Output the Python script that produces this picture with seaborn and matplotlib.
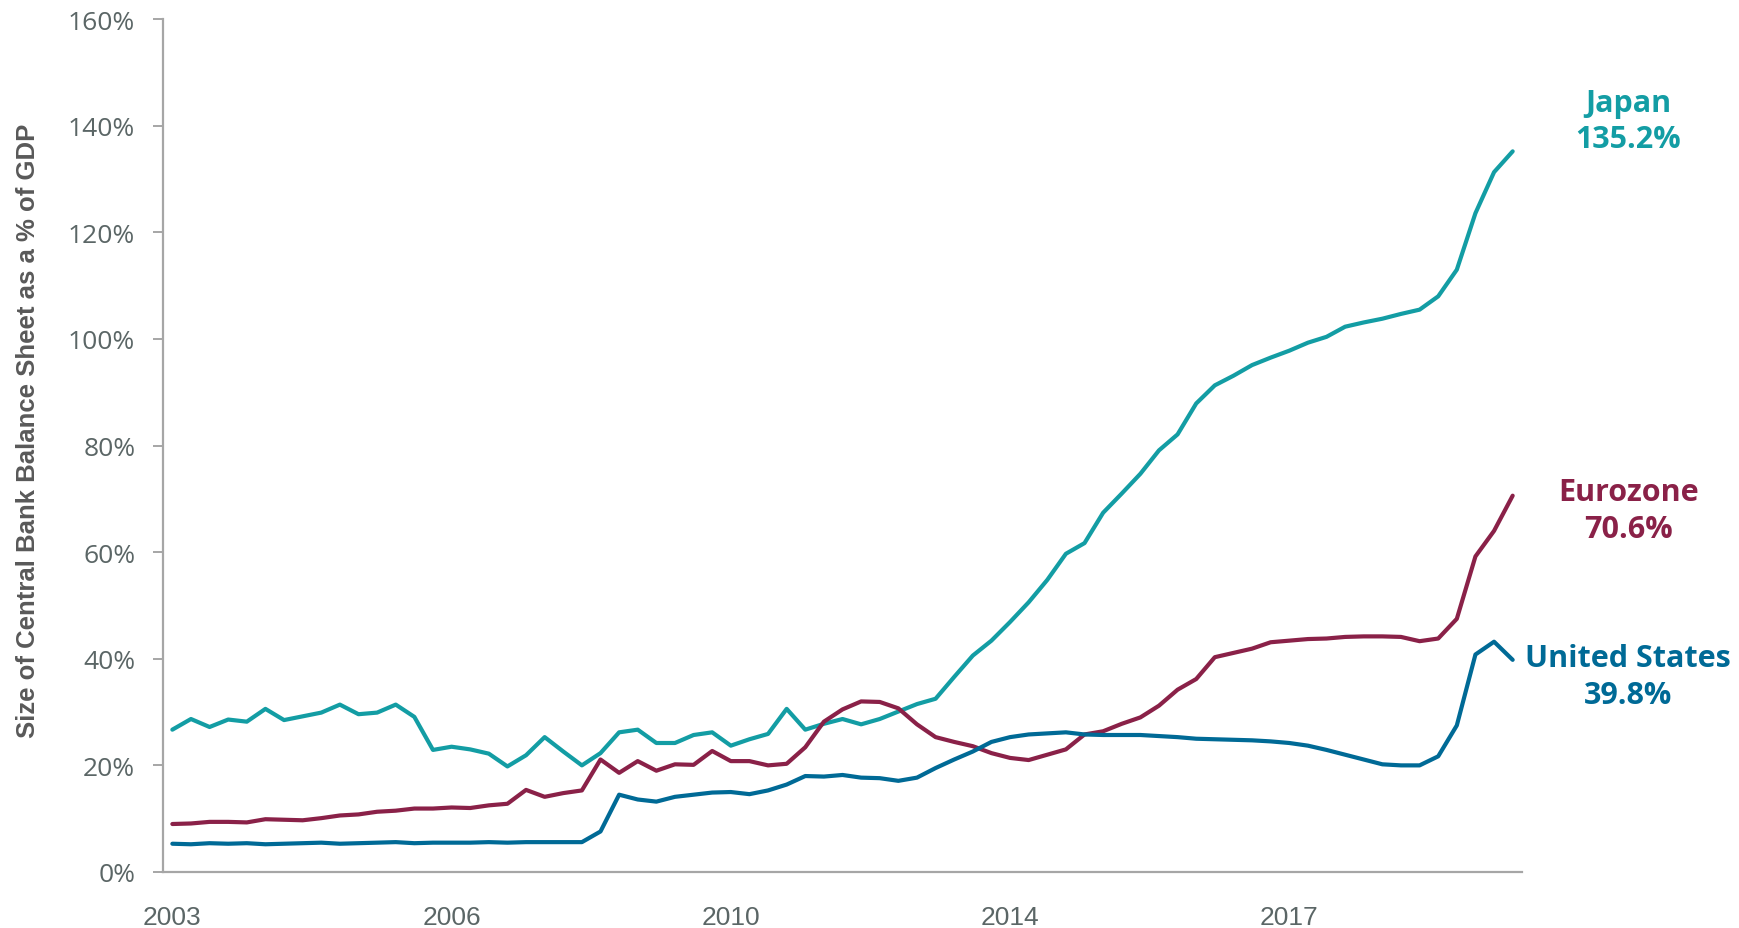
import matplotlib
matplotlib.use('Agg')
import matplotlib.pyplot as plt
import seaborn as sns
import pandas as pd
import numpy as np

# quarterly data, 73 points
japan = [26.7, 28.7, 27.2, 28.6, 28.2, 30.6, 28.5, 29.2, 29.9, 31.4, 29.6, 29.9, 31.4, 29.1, 22.9, 23.5,
         23.0, 22.2, 19.8, 21.9, 25.3, 22.6, 20.0, 22.3, 26.2, 26.7, 24.2, 24.2, 25.7, 26.2, 23.7, 24.9,
         25.9, 30.6, 26.7, 27.8, 28.7, 27.7, 28.7, 30.1, 31.5, 32.5, 36.6, 40.6, 43.4, 46.9, 50.6, 54.8,
         59.7, 61.7, 67.4, 71.0, 74.7, 79.1, 82.1, 87.9, 91.3, 93.1, 95.1, 96.5, 97.8, 99.3, 100.4, 102.3,
         103.1, 103.8, 104.7, 105.5, 108.0, 113.0, 123.6, 131.3, 135.2]
eurozone = [9.0, 9.1, 9.4, 9.4, 9.3, 9.9, 9.8, 9.7, 10.1, 10.6, 10.8, 11.3, 11.5, 11.9, 11.9, 12.1,
            12.0, 12.5, 12.8, 15.4, 14.1, 14.8, 15.3, 21.1, 18.6, 20.8, 19.0, 20.2, 20.1, 22.7, 20.8, 20.8,
            20.0, 20.3, 23.4, 28.2, 30.5, 32.0, 31.9, 30.7, 27.7, 25.3, 24.4, 23.6, 22.3, 21.4, 21.0, 22.0,
            23.0, 25.8, 26.4, 27.8, 29.0, 31.2, 34.2, 36.2, 40.3, 41.1, 41.9, 43.1, 43.4, 43.7, 43.8, 44.1,
            44.2, 44.2, 44.1, 43.3, 43.8, 47.5, 59.2, 64.0, 70.6]
us = [5.3, 5.2, 5.4, 5.3, 5.4, 5.2, 5.3, 5.4, 5.5, 5.3, 5.4, 5.5, 5.6, 5.4, 5.5, 5.5,
      5.5, 5.6, 5.5, 5.6, 5.6, 5.6, 5.6, 7.6, 14.5, 13.6, 13.2, 14.1, 14.5, 14.9, 15.0, 14.6,
      15.3, 16.4, 18.0, 17.9, 18.2, 17.7, 17.6, 17.1, 17.7, 19.5, 21.1, 22.6, 24.4, 25.3, 25.8, 26.0,
      26.2, 25.8, 25.7, 25.7, 25.7, 25.5, 25.3, 25.0, 24.9, 24.8, 24.7, 24.5, 24.2, 23.7, 22.9, 22.0,
      21.1, 20.2, 20.0, 20.0, 21.7, 27.5, 40.8, 43.2, 39.8]

regions = ['Japan', 'Eurozone', 'United States']
end_labels = ['Japan\n135.2%', 'Eurozone\n70.6%', 'United States\n39.8%']
colors = ['#139DA4', '#8A2148', '#006A96']
tick_pos = [0, 15, 30, 45, 60]
tick_labels = ['2003', '2006', '2010', '2014', '2017']

df = pd.concat([
    pd.DataFrame({'quarter': np.arange(len(v)), 'value': v, 'region': r})
    for r, v in zip(regions, [japan, eurozone, us])
])

sns.set_style('white')
plt.rcParams['font.family'] = ['Open Sans', 'DejaVu Sans']
narrow = ['Liberation Sans Narrow', 'Liberation Sans', 'DejaVu Sans']

fig = plt.figure(figsize=(17.4, 9.29), dpi=100)
ax = fig.add_axes([0.0937, 0.0603, 0.781, 0.918])

sns.lineplot(data=df, x='quarter', y='value', hue='region', palette=colors,
             hue_order=regions, linewidth=3.0, legend=False, ax=ax)

ax.set_xlim(-0.5, 72.5)
ax.set_ylim(0, 160)
ax.set_yticks(range(0, 161, 20))
ax.set_yticklabels([f'{t}%' for t in range(0, 161, 20)])
ax.set_xticks(tick_pos)
ax.set_xticklabels(tick_labels, family=narrow)

grey = '#A6A6A6'
for s in ['top', 'right']:
    ax.spines[s].set_visible(False)
for s in ['left', 'bottom']:
    ax.spines[s].set_color(grey)
    ax.spines[s].set_linewidth(1.6)

ax.tick_params(axis='y', length=7, width=1.4, color=grey, pad=13,
               labelsize=19, labelcolor='#5B6666', left=True)
ax.tick_params(axis='x', length=0, pad=24, labelsize=19, labelcolor='#5B6666')

ax.set_xlabel('')
ax.set_ylabel('Size of Central Bank Balance Sheet as a % of GDP',
              family=narrow, fontweight='bold', fontsize=18.5, color='#595959')
ax.yaxis.set_label_coords(-0.0905, 0.519)

# end labels
label_y = [140.9, 67.8, 36.6]
for txt, yv, c in zip(end_labels, label_y, colors):
    ax.text(78.2, yv, txt, ha='center', va='center', fontsize=22, fontweight='bold',
            color=c, linespacing=1.3, clip_on=False)

fig.savefig('out.png', dpi=100)
